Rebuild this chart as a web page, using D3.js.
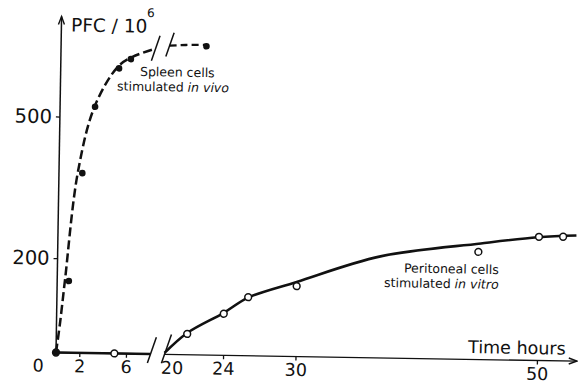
<!DOCTYPE html>
<html>
<head>
<meta charset="utf-8">
<script src="https://cdn.jsdelivr.net/npm/d3@7"></script>
<style>
  body { margin: 0; background: #fff; }
  svg { display: block; }
  text { font-family: "DejaVu Sans", sans-serif; fill: #111; }
</style>
</head>
<body>
<div class="chart"></div>
<script>
// chart size
const WIDTH = 578;
const HEIGHT = 384;

// spleen cells stimulated in vivo (filled dots)
const spleenHours = [0, 1, 2, 3, 5, 6, 22.2];
const spleenPFC = [0, 152, 381, 522, 604, 624, 654];

// dashed curve through the spleen dots, before and after the break
const spleenCurveHours = [0, 0.3, 0.66, 1.62, 2.97, 4.88, 6.14, 8.1];
const spleenCurvePFC = [0, 62, 152, 383, 523, 607, 629, 647];
const spleenTailHours = [19.15, 20.5, 22.2];
const spleenTailPFC = [654, 656, 657];

// peritoneal cells stimulated in vitro (open circles)
const peritonealHours = [0, 5, 21, 24, 26, 30, 45, 50, 52];
const peritonealPFC = [0, 0, 44, 88, 124, 149, 228, 262, 263];

// solid curve through the peritoneal circles
const peritonealStartHours = [0, 8.1];
const peritonealStartPFC = [0, 0];
const peritonealCurveHours = [19.15, 21, 24, 26, 30, 36.9, 45.2, 49.9, 53.1];
const peritonealCurvePFC = [3, 46, 90, 123, 158, 215, 246, 261, 266];

// axis ticks
const leftTicks = [0, 2, 6];
const rightTicks = [20, 24, 30, 50];
const yTicks = [200, 500];

// where the time axis is broken and where it ends
const BREAK_LEFT = 8.1;
const BREAK_RIGHT = 19.15;
const X_END = 53.3;
const Y_TOP = 712;

// the scan is tilted a little, so the whole plot is turned about the origin
const TILT = 0.95;

const svg = d3
  .select(".chart")
  .append("svg")
  .attr("width", WIDTH)
  .attr("height", HEIGHT);

const g = svg
  .append("g")
  .attr("transform", `translate(56,352.5) rotate(${TILT})`);

// broken time scale: 0-8 h on the left, 19-54 h on the right
const xLeft = d3.scaleLinear().domain([0, 6]).range([0, 70]);
const xRight = d3.scaleLinear().domain([20, 50]).range([118.8, 481]);
const y = d3.scaleLinear().domain([0, 500]).range([0, -236]);

function x(h) {
  return h < 14 ? xLeft(h) : xRight(h);
}

const zip = (a, b) => a.map((v, i) => [v, b[i]]);

// axis lines
g.append("line")
  .attr("x1", 0).attr("y1", 0)
  .attr("x2", 0).attr("y2", y(Y_TOP))
  .attr("stroke", "#111").attr("stroke-width", 1.5);

g.append("path")
  .attr("d", `M-3,${y(Y_TOP) + 8}L0,${y(Y_TOP)}L3,${y(Y_TOP) + 8}`)
  .attr("fill", "none").attr("stroke", "#111").attr("stroke-width", 1.4);

g.append("line")
  .attr("x1", 0).attr("y1", 0)
  .attr("x2", x(BREAK_LEFT)).attr("y2", 0)
  .attr("stroke", "#111").attr("stroke-width", 1.5);

g.append("line")
  .attr("x1", x(BREAK_RIGHT)).attr("y1", 0)
  .attr("x2", x(X_END)).attr("y2", 0)
  .attr("stroke", "#111").attr("stroke-width", 1.3);

g.append("path")
  .attr("d", `M${x(X_END) - 8},-3L${x(X_END)},0L${x(X_END) - 8},3`)
  .attr("fill", "none").attr("stroke", "#111").attr("stroke-width", 1.4);

// y axis ticks
const yAxis = g.append("g")
  .call(d3.axisLeft(y).tickValues(yTicks).tickSize(4).tickPadding(4));
yAxis.select(".domain").remove();
yAxis.selectAll("line").attr("stroke", "#111").attr("stroke-width", 1.3);
yAxis.selectAll("text")
  .attr("font-family", "DejaVu Sans")
  .attr("font-size", 19.5)
  .attr("fill", "#111");

// time axis ticks, one axis for each side of the break
function timeAxis(scale, ticks) {
  const a = g.append("g")
    .call(
      d3.axisBottom(scale)
        .tickValues(ticks)
        .tickFormat(d3.format("d"))
        .tickSize(4)
    );
  a.select(".domain").remove();
  a.selectAll("line").attr("stroke", "#111").attr("stroke-width", 1.3);
  a.selectAll("text")
    .attr("font-family", "DejaVu Sans")
    .attr("font-size", 17.5)
    .attr("fill", "#111")
    .attr("dy", 0)
    .attr("y", 19.5);
  // the 0 and 20 labels have no tick of their own
  a.selectAll(".tick")
    .filter((d) => d === 0 || d === 20)
    .select("line").remove();
  a.selectAll(".tick")
    .filter((d) => d === 0)
    .select("text").attr("x", -18);
  a.selectAll(".tick")
    .filter((d) => d === 20)
    .select("text").attr("x", -3);
}
timeAxis(xLeft, leftTicks);
timeAxis(xRight, rightTicks);

// break marks
function slash(px, py, below, above) {
  g.append("line")
    .attr("x1", px - below * 0.33).attr("y1", py + below)
    .attr("x2", px + above * 0.33).attr("y2", py - above)
    .attr("stroke", "#111").attr("stroke-width", 1.5);
}
slash(x(BREAK_LEFT), 0, 9, 17);
slash(x(BREAK_RIGHT), 0, 9, 20);
slash(x(spleenCurveHours[spleenCurveHours.length - 1]), y(spleenCurvePFC[spleenCurvePFC.length - 1]), 12, 13);
slash(x(spleenTailHours[0]), y(spleenTailPFC[0]), 11, 13);

// curves
const line = d3.line()
  .x((d) => x(d[0]))
  .y((d) => y(d[1]))
  .curve(d3.curveCatmullRom.alpha(0.5));

g.append("path")
  .attr("d", line(zip(spleenCurveHours, spleenCurvePFC)))
  .attr("fill", "none").attr("stroke", "#111")
  .attr("stroke-width", 2.5).attr("stroke-dasharray", "9,4");

g.append("path")
  .attr("d", line(zip(spleenTailHours, spleenTailPFC)))
  .attr("fill", "none").attr("stroke", "#111")
  .attr("stroke-width", 2.3).attr("stroke-dasharray", "7,4");

g.append("path")
  .attr("d", line(zip(peritonealStartHours, peritonealStartPFC)))
  .attr("fill", "none").attr("stroke", "#111").attr("stroke-width", 2.6);

g.append("path")
  .attr("d", line(zip(peritonealCurveHours, peritonealCurvePFC)))
  .attr("fill", "none").attr("stroke", "#111").attr("stroke-width", 2.6);

// points
g.selectAll(".open")
  .data(zip(peritonealHours, peritonealPFC))
  .enter()
  .append("circle")
  .attr("class", "open")
  .attr("cx", (d) => x(d[0]))
  .attr("cy", (d) => y(d[1]))
  .attr("r", 3.4)
  .attr("fill", "#fff")
  .attr("stroke", "#111")
  .attr("stroke-width", 1.5);

g.selectAll(".filled")
  .data(zip(spleenHours, spleenPFC))
  .enter()
  .append("circle")
  .attr("class", "filled")
  .attr("cx", (d) => x(d[0]))
  .attr("cy", (d) => y(d[1]))
  .attr("r", 3.3)
  .attr("fill", "#111");

// labels, turned with the scan
function label(px, py, size, parts) {
  const t = svg.append("text")
    .attr("transform", `translate(${px},${py}) rotate(${TILT})`)
    .attr("font-size", size);
  parts.forEach((p) => {
    t.append("tspan")
      .attr("font-style", p.italic ? "italic" : "normal")
      .text(p.text);
  });
  return t;
}

label(71, 31.5, 18.5, [{ text: "PFC / 10" }]);
label(147, 17, 12, [{ text: "6" }]);
label(468, 353, 17.5, [{ text: "Time hours" }]);
label(140, 76, 12.5, [{ text: "Spleen cells" }]);
label(117, 90.5, 12.5, [{ text: "stimulated " }, { text: "in vivo", italic: true }]);
label(404, 272.5, 12.5, [{ text: "Peritoneal cells" }]);
label(384, 287, 12.5, [{ text: "stimulated " }, { text: "in vitro", italic: true }]);
</script>
</body>
</html>
